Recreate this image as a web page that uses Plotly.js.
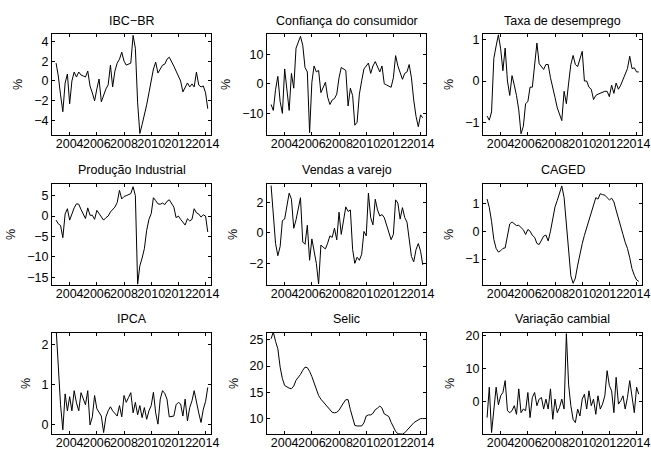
<!DOCTYPE html>
<html>
<head>
<meta charset="utf-8">
<script src="https://cdn.plot.ly/plotly-3.0.1.min.js"></script>
<style>html,body{margin:0;padding:0;background:#fff;}#chart{width:651px;height:449px;}</style>
</head>
<body>
<div id="chart"></div>
<script>
// Observations every second month, Jan 2003 - Mar 2014
const dates = ["2003-01","2003-03","2003-05","2003-07","2003-09","2003-11",
"2004-01","2004-03","2004-05","2004-07","2004-09","2004-11",
"2005-01","2005-03","2005-05","2005-07","2005-09","2005-11",
"2006-01","2006-03","2006-05","2006-07","2006-09","2006-11",
"2007-01","2007-03","2007-05","2007-07","2007-09","2007-11",
"2008-01","2008-03","2008-05","2008-07","2008-09","2008-11",
"2009-01","2009-03","2009-05","2009-07","2009-09","2009-11",
"2010-01","2010-03","2010-05","2010-07","2010-09","2010-11",
"2011-01","2011-03","2011-05","2011-07","2011-09","2011-11",
"2012-01","2012-03","2012-05","2012-07","2012-09","2012-11",
"2013-01","2013-03","2013-05","2013-07","2013-09","2013-11",
"2014-01","2014-03"];

const titles = ["IBC\u2212BR","Confiança do consumidor","Taxa de desemprego",
"Produção Industrial","Vendas a varejo","CAGED",
"IPCA","Selic","Variação cambial"];

const ibcbr = [1.8,0.5,-1.4,-3.1,-0.2,0.7,-2.3,0.0,0.9,0.4,0.9,0.6,0.5,0.4,1.0,-0.5,-1.2,-2.0,-0.8,0.2,-2.1,-1.4,-0.8,-0.4,1.6,-0.6,1.0,1.8,2.2,2.9,2.0,1.6,1.7,1.8,4.6,3.3,-2.2,-5.3,-4.4,-3.5,-2.4,-1.2,0.0,1.2,1.9,0.8,1.2,1.6,1.7,2.2,2.4,2.0,1.5,1.0,0.4,0.0,-1.1,-0.7,-0.2,-0.6,-0.3,-0.6,0.9,-0.4,-0.6,-0.5,-1.2,-2.8];
const confianca = [-7,-9,-2,2.5,-6,-10,5,-3,-9,3.5,-1.5,12,14,16,13,5.5,4,-16.5,0.5,6,4,4.5,-3,-1.5,0.5,-4.5,-7,-5.5,-5,-3.5,2,5.5,5,4.5,-7.5,-1.5,-4,-14,-13,-3.5,1,5,6,7,3.5,6,7.5,6,4,6,0,-0.4,-0.8,-1.2,2,9.5,6,4,1.5,3.5,4,6.5,2,-5.5,-11,-14.5,-10.5,-11.5];
const desemprego = [-0.85,-0.95,-0.75,0.55,0.85,1.12,0.78,0.25,0.8,0.0,-0.35,0.13,-0.1,-0.35,-0.7,-1.28,-1.1,-0.55,-0.5,-0.15,-0.15,0.35,0.92,0.42,0.35,0.28,0.4,0.4,0.08,-0.2,-0.4,-0.65,-0.8,-0.96,-0.25,-0.55,-0.05,0.4,0.62,0.4,0.35,0.56,0.72,0.0,0.0,-0.15,-0.2,-0.45,-0.35,-0.32,-0.3,-0.28,-0.25,-0.25,-0.38,-0.1,-0.3,-0.05,-0.2,-0.1,0.05,0.19,0.3,0.6,0.3,0.32,0.22,0.22];
const producao = [-1.0,-1.9,-2.3,-5.3,0.5,1.8,-1.0,0.7,2.0,3.0,2.9,1.6,0.5,-0.6,2.0,0.2,0.2,-0.8,1.4,0.6,-0.3,-1.0,-0.4,0.0,1.0,1.5,2.2,3.3,6.3,4.2,4.8,5.0,5.2,5.5,7.2,5.0,-16.7,-12.2,-10.3,-8.0,-3.5,-0.8,0.6,4.5,3.8,3.0,2.9,3.2,2.8,3.6,4.0,3.1,2.2,-0.4,0.0,-0.8,-1.5,-2.2,-0.65,-1.2,-0.8,1.8,0.8,0.5,-0.25,0.3,0.0,-3.9];
const varejo = [3.1,1.3,-0.7,-1.5,-0.9,0.8,0.9,1.75,2.6,2.2,0.3,0.85,1.6,2.3,-0.6,-0.75,0.5,-1.8,-0.4,-1.3,-2.0,-3.35,-0.8,-0.95,-1.05,-0.68,-0.2,-0.3,0.3,-0.46,1.35,-0.1,0.8,1.7,1.4,1.5,-1.1,-2.0,-1.6,-1.8,-1.4,0.09,-0.2,2.6,1.0,0.52,2.2,1.5,1.1,1.2,1.0,0.5,0.09,-0.45,-0.1,2.16,1.95,0.9,1.65,1.0,0.7,-0.5,-1.55,-1.9,-1.1,-0.7,-1.2,-2.1];
const caged = [1.15,0.85,0.35,-0.3,-0.62,-0.75,-0.7,-0.62,-0.6,-0.15,0.26,0.33,0.27,0.2,0.21,0.14,0.05,-0.12,0.06,0.0,-0.15,-0.22,-0.44,-0.48,-0.32,-0.18,-0.14,-0.35,0.0,0.5,0.87,1.1,1.36,1.62,1.2,0.15,-0.9,-1.6,-1.87,-1.68,-1.22,-0.8,-0.45,-0.15,0.12,0.42,0.66,0.9,1.2,1.15,1.34,1.31,1.29,1.2,1.12,1.18,1.05,0.75,0.42,0.15,-0.12,-0.4,-0.62,-0.95,-1.35,-1.58,-1.75,-1.8];
const ipca = [2.4,1.3,0.5,-0.12,0.77,0.35,0.7,0.35,0.85,0.55,0.35,0.8,0.65,0.5,0.85,0.0,0.2,0.73,0.4,0.3,0.22,-0.19,0.2,0.35,0.45,0.35,0.27,0.22,0.48,0.2,0.73,0.56,0.68,0.8,0.3,0.56,0.25,0.48,0.18,0.43,0.14,0.35,0.48,0.81,0.3,0.02,0.64,0.85,0.78,0.64,0.2,0.21,0.22,0.5,0.56,0.52,0.22,0.64,0.1,0.43,0.6,0.85,0.52,0.3,0.06,0.39,0.58,0.93];
const selic = [25.2,26.5,24.7,23.3,19.8,17.6,16.3,16.0,15.8,15.7,16.2,17.3,17.85,18.4,19.2,19.8,19.7,19.0,18.0,16.8,15.6,14.4,13.7,13.2,12.7,12.2,11.5,11.2,11.1,11.2,11.6,12.4,13.0,13.6,13.6,11.7,9.9,8.7,8.6,8.6,8.6,9.2,10.5,10.7,10.7,11.0,11.7,12.0,12.4,12.0,10.9,10.65,10.4,9.3,8.3,7.6,7.1,7.05,7.05,7.3,7.8,8.4,8.9,9.2,9.5,9.8,10.0,10.0];
const cambial = [-4.9,4.3,-9.4,-2.3,4.3,-1.0,1.7,2.7,6.3,-2.8,-3.4,-2.8,-1.3,-3.9,3.8,-3.4,-2.3,-2.8,2.7,-4.9,1.2,2.7,-1.3,0.7,1.2,-2.3,0.7,-2.3,3.8,-5.4,0.7,-3.4,-1.8,0.7,-2.3,20.5,5.0,-1.3,-5.4,-6.4,-2.3,-4.4,0.7,2.2,-2.3,3.2,-1.3,0.7,-3.9,1.7,-2.3,-0.8,1.7,9.3,4.8,3.2,-3.4,7.3,-0.8,0.2,1.7,-2.3,1.2,6.3,1.7,-3.4,4.3,2.2];

const series = [ibcbr, confianca, desemprego, producao, varejo, caged, ipca, selic, cambial];
const xTickYears = ["2004","2006","2008","2010","2012","2014"];

// axis configuration (not data)
const yRanges = [[-5.45,4.74],[-17.3,16.8],[-1.31,1.14],[-16.9,7.86],[-3.42,3.2],[-1.93,1.69],[-0.225,2.28],[7.07,26.3],[-9.85,20.7]];
const yDticks = [2,10,1,5,2,1,1,5,10];
const colDom = [[52/651,211/651],[267/651,426/651],[483/651,642/651]];
const rowDom = [[1-135/449,1-34/449],[1-285/449,1-184/449],[1-434/449,1-333/449]];
const titleY = [1-21/449, 1-170/449, 1-319/449];

const fam = "Liberation Sans, Arial, Helvetica, sans-serif";
const font = {family: fam, size: 12.5, color: "#000"};
const traces = [];
const layout = {
  width: 651, height: 449,
  margin: {l:0, r:0, t:0, b:0},
  paper_bgcolor: "#fff", plot_bgcolor: "#fff",
  showlegend: false, font: font,
  annotations: []
};

for (let k = 0; k < 9; k++) {
  const r = Math.floor(k/3), c = k % 3;
  const n = k === 0 ? "" : String(k+1);
  traces.push({
    x: dates, y: series[k], type: "scatter", mode: "lines",
    line: {color: "#000", width: 1}, xaxis: "x"+n, yaxis: "y"+n,
    hoverinfo: "skip"
  });
  layout["xaxis"+n] = {
    domain: colDom[c], anchor: "y"+n, type: "date",
    range: ["2002-09-13","2014-05-27"],
    tickvals: xTickYears.map(v => v + "-01-01"), ticktext: xTickYears,
    tickangle: 0, ticks: "inside", ticklen: 3, tickcolor: "#000",
    ticklabelstandoff: -3, ticklabeloverflow: "allow",
    showline: true, linecolor: "#000", linewidth: 1, mirror: "ticks",
    showgrid: false, zeroline: false, tickfont: font, fixedrange: true
  };
  layout["yaxis"+n] = {
    domain: rowDom[r], anchor: "x"+n, range: yRanges[k],
    dtick: yDticks[k], tick0: 0,
    ticks: "inside", ticklen: 3, tickcolor: "#000",
    showline: true, linecolor: "#000", linewidth: 1, mirror: "ticks",
    showgrid: false, zeroline: false, tickfont: font, fixedrange: true,
    title: {text: "%", font: font, standoff: 8}
  };
  layout.annotations.push({
    text: titles[k], xref: "paper", yref: "paper",
    x: (colDom[c][0]+colDom[c][1])/2, y: titleY[r],
    xanchor: "center", yanchor: "middle", showarrow: false,
    font: {family: fam, size: 12.5, color: "#000"}
  });
}

Plotly.newPlot("chart", traces, layout, {staticPlot: true, displayModeBar: false});
</script>
</body>
</html>
